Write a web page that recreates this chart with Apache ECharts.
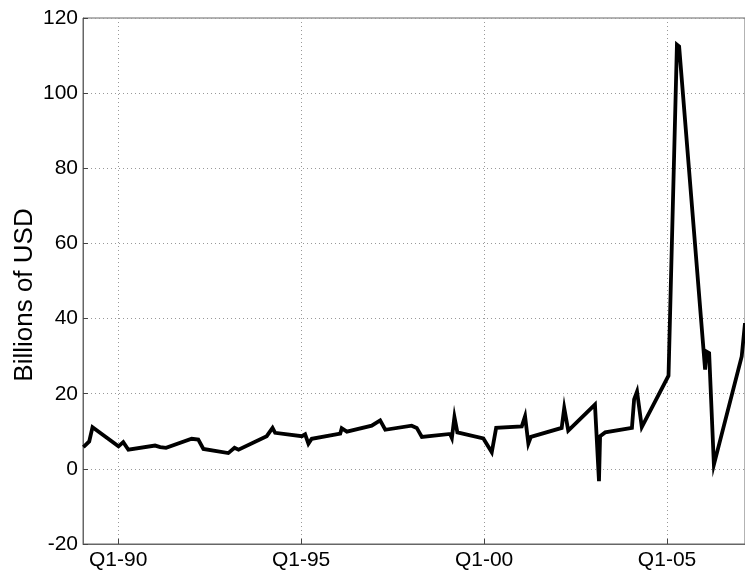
<!DOCTYPE html>
<html>
<head>
<meta charset="utf-8">
<script src="https://cdn.jsdelivr.net/npm/echarts@6/dist/echarts.min.js"></script>
<style>html,body{margin:0;padding:0;background:#fff}#c{width:745px;height:575px}</style>
</head>
<body>
<div id="c"></div>
<script>
const years = [1989.05,1989.21,1989.30,1990.01,1990.14,1990.28,1991.01,1991.15,1991.20,1991.31,1992.01,1992.19,1992.33,1993.01,1993.18,1993.29,1994.06,1994.22,1994.29,1995.02,1995.11,1995.20,1995.29,1996.07,1996.11,1996.25,1996.93,1997.16,1997.30,1998.02,1998.16,1998.30,1999.07,1999.12,1999.19,1999.27,1999.98,2000.21,2000.33,2001.03,2001.12,2001.21,2001.28,2002.12,2002.19,2002.30,2003.03,2003.14,2003.17,2003.31,2004.04,2004.10,2004.18,2004.31,2005.04,2005.27,2005.33,2006.04,2006.08,2006.15,2006.28,2007.04,2007.13];
const values = [5.8,7.3,11.1,6.0,7.1,5.1,6.2,5.8,6.3,5.6,8.0,7.8,5.3,4.2,5.6,5.1,8.7,10.9,9.6,8.7,9.2,6.7,8.0,9.4,10.8,9.9,11.5,12.9,10.4,11.5,10.9,8.5,9.3,8.2,13.8,9.7,8.1,4.4,10.9,11.3,14.0,6.7,8.5,10.9,16.2,10.2,17.1,-3.3,8.7,9.7,10.9,18.5,20.6,11.1,24.8,112.9,112.4,26.4,31.2,30.8,1.1,29.9,38.8];
const tickYears = [1990,1995,2000,2005];
const tickLabels = ['Q1-90','Q1-95','Q1-00','Q1-05'];
const yTicks = [-20,0,20,40,60,80,100,120];

const font = 'Liberation Sans, Arial, sans-serif';
const chart = echarts.init(document.getElementById('c'), null, {renderer:'canvas'});
chart.setOption({
  animation:false,
  backgroundColor:'#fff',
  grid:{left:83,right:0,top:18,bottom:31,containLabel:false,outerBoundsMode:'none',show:true,borderColor:'#666',borderWidth:1,backgroundColor:'transparent'},
  xAxis:{
    type:'value', min:1989.04, max:2007.13,
    axisLine:{show:true,onZero:false,lineStyle:{color:'#666',width:1}},
    axisTick:{show:true,inside:true,length:5,lineStyle:{color:'#444'},customValues:tickYears},
    axisLabel:{customValues:tickYears,fontFamily:font,fontSize:21,color:'#000',margin:6,
      formatter:function(v){const i=tickYears.indexOf(Math.round(v));return i>=0?tickLabels[i]:'';}},
    splitLine:{show:true,lineStyle:{color:'#999',type:[1,3],width:1}}
  },
  yAxis:{
    type:'value', min:yTicks[0], max:yTicks[yTicks.length-1], interval:20,
    name:'Billions of USD', nameLocation:'middle', nameGap:45, nameRotate:90, nameMoveOverlap:false,
    nameTextStyle:{fontFamily:font,fontSize:26,color:'#000',padding:[0,28,0,0]},
    axisLine:{show:true,onZero:false,lineStyle:{color:'#666',width:1}},
    axisTick:{show:true,inside:true,length:5,lineStyle:{color:'#444'}},
    axisLabel:{fontFamily:font,fontSize:21,color:'#000',margin:5},
    splitLine:{show:true,lineStyle:{color:'#999',type:[1,3],width:1}}
  },
  series:[{
    type:'line', data:years.map((y,i)=>[y,values[i]]),
    showSymbol:false, symbol:'none',
    lineStyle:{color:'#000',width:3.8,join:'miter'},
    clip:true
  }]
});
</script>
</body>
</html>
